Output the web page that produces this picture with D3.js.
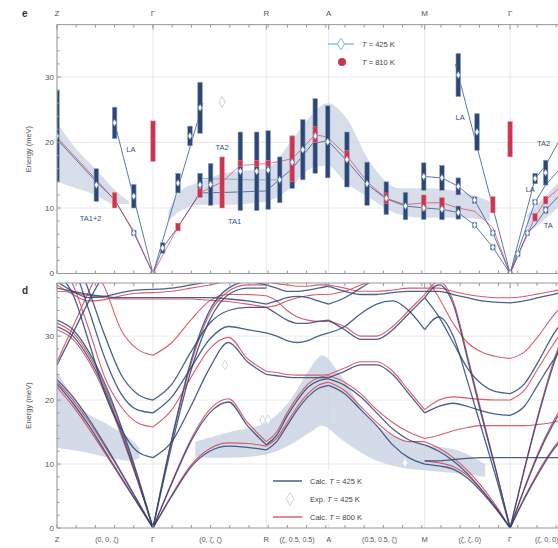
<!DOCTYPE html>
<html><head><meta charset="utf-8">
<script src="https://cdn.jsdelivr.net/npm/d3@7"></script>
<style>body{margin:0;background:#fff}svg{display:block;font-family:"Liberation Sans",Arial,sans-serif}</style>
</head><body><svg id="c" width="558" height="548"></svg>
<script>
// High-symmetry path
const symLabels = ["Z", "Γ", "R", "A", "M", "Γ"];
const symQ = [0, 1, 2.18, 2.83, 3.83, 4.72];
const dirLabels = ["(0, 0, ζ)", "(0, ζ, ζ)", "(ζ, 0.5, 0.5)", "(0.5, 0.5, ζ)", "(ζ, ζ, 0)", "(ζ, 0, 0)"];
const dirQ = [0.52, 1.6, 2.5, 3.36, 4.3, 5.1];
const yTicks = [0, 10, 20, 30];

// Panel e: measured peaks [q, energy, half-width]
const peaks425 = [
  [0, 21, 7], [0.41, 13.5, 2.5], [0.60, 23, 2.4], [0.80, 11.8, 1.8], [0.80, 6.2, 0.4],
  [1.10, 3.9, 0.8], [1.26, 13.8, 1.5], [1.385, 21, 1.5], [1.49, 25.3, 3.9], [1.49, 13.5, 1.8],
  [1.60, 13.6, 3.2], [1.91, 15.6, 6], [2.08, 15.6, 6], [2.20, 15.8, 6], [2.32, 14.3, 3.5],
  [2.45, 17, 4], [2.56, 18.9, 4.6], [2.69, 21, 5.7], [2.82, 20.1, 5.5], [3.02, 17.4, 4.2],
  [3.23, 13.7, 3.3], [3.43, 11.5, 2.5], [3.63, 10.3, 2.1], [3.82, 14.8, 2.1], [3.82, 10, 1.75],
  [4.01, 14.6, 1.9], [4.01, 9.8, 1.6], [4.18, 13.3, 1.3], [4.18, 9.3, 1.0], [4.18, 30.3, 3.3],
  [4.375, 21.6, 2.8], [4.35, 11.2, 0.5], [4.35, 7.4, 0.4], [4.54, 6.2, 0.4], [4.54, 4.0, 0.4],
  [4.80, 3.0, 0.4], [4.90, 6.2, 0.4], [4.98, 14.5, 0.8], [4.98, 10.9, 0.4], [5.09, 15.4, 1.9],
  [5.09, 9.7, 0.5], [1, 0, 0.3], [4.72, 0, 0.3]
];
const peaks810 = [
  [0.60, 11.2, 1.2], [1.0, 20.2, 3.1], [1.26, 7.1, 0.6], [1.49, 12.3, 0.7], [1.72, 13.9, 3.9],
  [1.91, 16.8, 0.5], [2.08, 16.8, 0.5], [2.20, 16.8, 0.5], [2.45, 17.5, 3.5], [2.69, 21.2, 1.2],
  [3.02, 18, 0.8], [3.43, 11.5, 0.8], [3.82, 10.8, 1.2], [4.01, 10.8, 0.8], [4.54, 10.5, 1.25],
  [4.72, 20.5, 2.7], [4.98, 8.6, 0.6], [5.09, 11.2, 0.6]
];
// Panel e: dispersion guides [q, energy]
const guide425 = [
  [[0, 20.5], [0.41, 14], [0.6, 11.3], [0.8, 6.2], [1, 0]],
  [[0.58, 24.2], [1, 0]],
  [[1, 0], [1.52, 26]],
  [[1, 0], [1.1, 3.9], [1.26, 7.1], [1.49, 12.3], [1.8, 12.4], [2.18, 12.6], [2.45, 16], [2.66, 19.8], [2.82, 20.3], [3.02, 17.2], [3.23, 13.6], [3.43, 11.4], [3.63, 10.3], [3.83, 10], [4.01, 9.8], [4.18, 9.3], [4.35, 7.4], [4.54, 4], [4.72, 0]],
  [[3.83, 14.8], [4.01, 14.6], [4.18, 13.3], [4.35, 11.2], [4.54, 6.2], [4.72, 0]],
  [[4.15, 32], [4.72, 0]],
  [[4.72, 0], [4.9, 6.2], [4.98, 7.4], [5.09, 9.7], [5.3, 13]],
  [[4.72, 0], [4.98, 10.9], [5.09, 13.5], [5.3, 17]],
  [[4.72, 0], [4.98, 14.5], [5.09, 16.5], [5.22, 20]]
];
const guideTA2 = [[1.49, 14.5], [1.8, 14.4], [2.0, 14.3], [2.3, 14.3]];
const guide810 = [
  [[0, 20.8], [0.41, 14.3], [0.6, 11.2], [0.8, 6.5], [1, 0]],
  [[1, 0], [1.26, 7.1], [1.49, 12.3], [1.72, 14], [1.91, 16.5], [2.2, 16.8], [2.45, 17.5], [2.69, 21.2], [2.82, 20.8], [3.02, 18], [3.23, 14], [3.43, 11.5], [3.63, 10.5], [3.82, 10.8], [4.01, 10.8], [4.18, 10], [4.35, 9.5], [4.54, 7], [4.72, 0]],
  [[4.72, 0], [4.98, 8.6], [5.09, 11.2], [5.3, 14]]
];
// Panel e: linewidth envelope [q, low, high]
const envE = [
  [[0, 14, 23], [0.2, 13, 19], [0.4, 12, 16], [0.6, 10.6, 12.8], [0.75, 10.6, 11]],
  [[1.16, 8, 9.5], [1.28, 9.5, 12.5], [1.49, 10.5, 14], [1.8, 10.5, 15.5], [2.18, 11, 16], [2.43, 13, 20], [2.64, 16, 24], [2.82, 16.5, 26], [3.0, 14, 24], [3.26, 11.5, 17], [3.57, 9, 13], [3.83, 8.5, 13], [4.2, 8.5, 12.5], [4.51, 8, 11]],
  [[4.9, 6, 9], [5.1, 8.5, 12], [5.3, 11, 15], [5.6, 13, 18]]
];
// Panel d: experimental envelope [q, low, high]
const envD = [
  [[0, 12.5, 24.5], [0.24, 12, 19], [0.55, 11, 16], [0.76, 10.5, 14], [0.86, 11, 12.5]],
  [[1.44, 11, 13.5], [1.8, 11, 15], [2.18, 11.5, 16.5], [2.43, 13, 20], [2.64, 15, 25], [2.76, 16, 27], [2.95, 14, 24], [3.26, 11, 17], [3.57, 9.5, 14], [3.83, 9, 13], [4.2, 8.5, 12], [4.46, 8, 10]]
];
const expPts = [[3.625, 10.2], [1.75, 25.5], [2.14, 16.9], [2.2, 16.9]];

// Panel d: calculated branches, 7 evenly spaced samples per path segment
const segQ = [[0, 1], [1, 2.18], [2.18, 2.83], [2.83, 3.83], [3.83, 4.72], [4.72, 5.6]];
const calc425_ZG = [
  [22.5, 19.5, 16, 12, 8, 4, 0], [23.2, 20.5, 17, 13, 8.8, 4.4, 0],
  [32.5, 31, 27.5, 22.5, 16, 8.5, 0], [31.5, 30, 26.5, 21.5, 15, 7.8, 0],
  [25.5, 30.5, 35.5, 40, 44, 45, 45], [40, 36.5, 29, 21, 15.5, 12, 11],
  [44, 41, 34, 26.5, 21, 18.5, 18], [45, 43, 37, 30, 24, 21, 20],
  [37.5, 37, 36.5, 36.2, 36, 36, 36], [38.5, 37, 36, 36.2, 36.8, 37.2, 37.3]
];
const calc800_ZG = [
  [22, 19, 15.5, 11.7, 7.8, 3.9, 0], [22.8, 20, 16.6, 12.7, 8.6, 4.3, 0],
  [32, 30.5, 27, 22, 15.6, 8.2, 0], [31, 29.5, 26, 21, 14.6, 7.6, 0],
  [26, 31.5, 37, 42, 45, 46, 46], [42, 38, 31, 23.5, 19, 16.5, 15.8],
  [50, 47, 42, 37.5, 31, 28, 27], [37, 36.8, 36.3, 36, 35.8, 35.8, 35.8],
  [38, 36.5, 35.5, 35.7, 36.3, 36.7, 36.8]
];
const calc425_GR = [
  [0, 5, 9.5, 12, 12.8, 12.6, 12.2], [0, 7, 13.5, 18, 19.7, 16, 13],
  [0, 14, 26, 34, 37.5, 38.5, 38], [0, 13, 24.5, 32.5, 36.5, 37.5, 37.5],
  [11, 13.5, 19, 25, 29, 26, 24], [18, 20.5, 25, 29.5, 31.5, 31, 30.5],
  [20, 22.5, 27.5, 32, 34, 34.5, 34.5], [36, 36, 36, 36, 35.8, 35.5, 35],
  [37.3, 37.5, 38, 38.5, 39, 39, 39]
];
const calc800_GR = [
  [0, 5.2, 9.8, 12.4, 13.3, 13.2, 12.8], [0, 7.2, 13.8, 18.5, 20.2, 16.5, 13.5],
  [0, 13.8, 25.5, 33.5, 37, 38, 38], [15.8, 18.5, 23.5, 28, 29.8, 26.5, 24.5],
  [27, 29, 32.5, 35.5, 36.5, 36.5, 36.3], [35.8, 35.8, 35.8, 35.6, 35.4, 35, 34.5],
  [36.8, 37, 37.5, 38, 38.5, 38.5, 38.5]
];
const calc425_RA = [
  [12.2, 13.5, 16, 18.5, 20.5, 21.8, 22.3], [13, 14.5, 17.5, 20, 22, 23, 23.3],
  [24, 23.8, 23.6, 23.5, 23.5, 23.5, 23.5], [30.5, 30, 29.3, 29, 29.3, 30, 30.5],
  [34.5, 33.5, 32.5, 32, 32, 32.3, 32.5], [35, 35.5, 36, 36.2, 36, 35.5, 35],
  [38, 37.5, 37, 37, 37.2, 37.5, 37.8]
];
const calc800_RA = [
  [12.8, 14, 16.5, 19, 21, 22.3, 22.8], [13.5, 15, 18, 20.5, 22.5, 23.5, 23.8],
  [24.5, 24.3, 24, 23.9, 23.9, 23.9, 24], [36.3, 35.5, 34, 33, 32.5, 32.3, 32.3],
  [34.5, 34.8, 35.5, 36, 36.3, 36.5, 36.5], [38.5, 38.2, 38, 37.8, 37.8, 38, 38]
];
const calc425_AM = [
  [22.3, 21, 18.5, 16, 13, 11, 10], [23.3, 22.3, 20.5, 18, 15.5, 13.8, 13],
  [23.5, 24.5, 25.5, 25.5, 24, 21, 18], [30.5, 31.5, 33.5, 35, 35.5, 34, 31],
  [32.5, 31, 29.5, 29.5, 31, 33.5, 36], [35, 36, 37.5, 39, 40, 40, 40],
  [37.8, 37, 36.5, 36.5, 36.8, 37, 37]
];
const calc800_AM = [
  [22.8, 21.5, 19, 16.5, 14.5, 13.5, 13.5], [23.8, 22.8, 21, 18.5, 16.5, 15, 14],
  [24, 25, 26, 26, 24.5, 21.5, 18.5], [32.3, 31.5, 30, 30, 31.5, 34, 36.5],
  [36.5, 37, 38, 39, 39.5, 39.5, 39.5], [38, 37.5, 37, 37, 37.2, 37.5, 37.5]
];
const calc425_MG = [
  [10, 9.7, 9.2, 7.8, 5.6, 3, 0], [13, 12, 10.5, 8.5, 6, 3.2, 0],
  [36, 38, 35, 26.5, 17.5, 9, 0], [31, 33, 30, 23, 15.5, 8, 0],
  [10.5, 10.5, 10.7, 10.9, 11, 11, 11], [18, 19, 19.5, 19, 18.3, 17.8, 17.6],
  [36, 33, 29, 25, 22.5, 21.3, 21], [37, 37, 36.5, 36, 35.5, 35.3, 35.2]
];
const calc800_MG = [
  [10.5, 10.2, 9.6, 8.2, 5.9, 3.2, 0], [13.5, 12.5, 11, 9, 6.5, 3.5, 0],
  [36.5, 38.5, 35.5, 27, 18, 9.2, 0], [14, 14.5, 15.2, 15.7, 16, 16, 16],
  [18.5, 20, 20.5, 20.3, 20.1, 20, 20], [39.5, 36, 32, 29, 27.5, 26.8, 26.5],
  [37.5, 37.5, 37, 36.5, 36.2, 36, 36]
];
const calc425_GX = [
  [0, 4.5, 8.5, 12, 14.5, 16, 17], [0, 6, 11.5, 16, 19.5, 22, 23],
  [0, 9, 17.5, 25, 31, 35, 37], [11, 11, 11, 11, 11, 11, 11],
  [17.6, 19, 22.5, 26, 29, 31, 32], [21, 22.5, 26, 30, 33, 35, 36],
  [35.2, 35.5, 36, 36.5, 37, 37.5, 38]
];
const calc800_GX = [
  [0, 4.7, 8.8, 12.3, 14.8, 16.3, 17.2], [0, 6.2, 11.8, 16.4, 20, 22.5, 23.5],
  [0, 9.2, 17.8, 25.5, 31.5, 35.5, 37.5], [16, 16, 16.2, 16.5, 17, 17.5, 18],
  [20, 21.5, 25, 28.5, 31.5, 33.5, 34.5], [26.5, 27.5, 30, 33, 35.5, 37, 38],
  [36, 36.2, 36.6, 37, 37.5, 38, 38.5]
];
const calc425 = [calc425_ZG, calc425_GR, calc425_RA, calc425_AM, calc425_MG, calc425_GX];
const calc800 = [calc800_ZG, calc800_GR, calc800_RA, calc800_AM, calc800_MG, calc800_GX];

const C = {
  navy: "#2d4673", blueLine: "#4a6aa0", teal: "#7fb0d0", red: "#cc3550",
  calcBlue: "#2c4575", calcRed: "#d64a5c", band: "#c9d2e2", grid: "#e3e3e3", axis: "#999"
};

const svg = d3.select("#c");
const W = 558;
const x = d3.scaleLinear().domain([0, 5.6]).range([57, 57 + 5.6 * 96]);
const yE = d3.scaleLinear().domain([0, 38]).range([273.5, 24.6]);
const yD = d3.scaleLinear().domain([0, 38.3]).range([528, 283]);

const defs = svg.append("defs");
defs.append("clipPath").attr("id", "clipE").append("rect").attr("x", 57).attr("y", 24.6).attr("width", W - 57).attr("height", 273.5 - 24.6);
defs.append("clipPath").attr("id", "clipD").append("rect").attr("x", 57).attr("y", 283).attr("width", W - 57).attr("height", 528 - 283);

function frame(y, top, bottom) {
  const g = svg.append("g");
  g.selectAll(".vg").data(symQ).join("line")
    .attr("x1", d => x(d)).attr("x2", d => x(d)).attr("y1", top).attr("y2", bottom)
    .attr("stroke", C.grid).attr("stroke-width", 0.8);
  g.selectAll(".hg").data(yTicks.slice(1)).join("line")
    .attr("x1", 57).attr("x2", W).attr("y1", d => y(d)).attr("y2", d => y(d))
    .attr("stroke", C.grid).attr("stroke-width", 0.8);
  return g;
}

function axes(y, top, bottom) {
  const g = svg.append("g").attr("stroke", C.axis).attr("fill", "none");
  g.append("line").attr("x1", 57).attr("x2", W).attr("y1", top).attr("y2", top);
  g.append("line").attr("x1", 57).attr("x2", W).attr("y1", bottom).attr("y2", bottom);
  g.append("line").attr("x1", 57).attr("x2", 57).attr("y1", top).attr("y2", bottom);
  const minorQ = d3.range(0, 5.6, 0.2);
  g.selectAll(".tt").data(minorQ).join("line")
    .attr("x1", d => x(d)).attr("x2", d => x(d)).attr("y1", top).attr("y2", top + 3);
  g.selectAll(".tb").data(minorQ).join("line")
    .attr("x1", d => x(d)).attr("x2", d => x(d)).attr("y1", bottom).attr("y2", bottom - 3);
  g.selectAll(".ts").data(symQ).join("line")
    .attr("x1", d => x(d)).attr("x2", d => x(d)).attr("y1", top).attr("y2", top + 5);
  const yMinor = d3.range(0, 38, 2);
  g.selectAll(".ym").data(yMinor).join("line")
    .attr("x1", 57).attr("x2", d => d % 10 === 0 ? 61 : 59.5).attr("y1", d => y(d)).attr("y2", d => y(d));
  svg.append("g").selectAll("text").data(yTicks).join("text")
    .attr("x", 54).attr("y", d => y(d) + 2.8).attr("text-anchor", "end")
    .attr("font-size", 8).attr("fill", "#555").text(d => d);
  svg.append("text").attr("transform", `translate(31,${(top + bottom) / 2}) rotate(-90)`)
    .attr("text-anchor", "middle").attr("font-size", 7.5).attr("fill", "#555").text("Energy (meV)");
}

function envelope(g, y, parts, fill, op) {
  const area = d3.area().x(d => x(d[0])).y0(d => y(d[1])).y1(d => y(d[2])).curve(d3.curveMonotoneX);
  parts.forEach(p => g.append("path").attr("d", area(p)).attr("fill", fill).attr("opacity", op));
}

// ---------- Panel e ----------
frame(yE, 24.6, 273.5);
const gE = svg.append("g").attr("clip-path", "url(#clipE)");
envelope(gE, yE, envE, C.band, 0.75);
const lineE = d3.line().x(d => x(d[0])).y(d => yE(d[1]));
guide425.forEach(p => gE.append("path").attr("d", lineE(p)).attr("fill", "none").attr("stroke", C.blueLine).attr("stroke-width", 0.9));
gE.append("path").attr("d", lineE(guideTA2)).attr("fill", "none").attr("stroke", C.teal).attr("stroke-width", 1);
guide810.forEach(p => gE.append("path").attr("d", lineE(p)).attr("fill", "none").attr("stroke", C.red).attr("stroke-width", 0.8).attr("opacity", 0.8));

gE.selectAll(".b425").data(peaks425).join("rect")
  .attr("x", d => x(d[0]) - 2.3).attr("width", 4.6)
  .attr("y", d => yE(d[1] + d[2])).attr("height", d => Math.max(2, yE(d[1] - d[2]) - yE(d[1] + d[2])))
  .attr("fill", C.navy).attr("stroke", "#8ea6cc").attr("stroke-width", 0.6);
gE.selectAll(".b810").data(peaks810).join("rect")
  .attr("x", d => x(d[0]) - 2.3).attr("width", 4.6)
  .attr("y", d => yE(d[1] + d[2])).attr("height", d => Math.max(2, yE(d[1] - d[2]) - yE(d[1] + d[2])))
  .attr("fill", C.red).attr("stroke", "#e69aa8").attr("stroke-width", 0.5);
const diamond = d3.symbol().type(d3.symbolDiamond).size(14);
gE.selectAll(".m425").data(peaks425).join("path")
  .attr("transform", d => `translate(${x(d[0])},${yE(d[1])})`).attr("d", diamond)
  .attr("fill", "#fff").attr("stroke", "#6f8fbf").attr("stroke-width", 0.5);
gE.append("path").attr("transform", `translate(${x(1.72)},${yE(26.2)})`)
  .attr("d", d3.symbol().type(d3.symbolDiamond).size(34)).attr("fill", "#fff").attr("stroke", "#d8c6e0").attr("stroke-width", 1);

axes(yE, 24.6, 273.5);

// mode labels [text, q, energy, anchor]
const modeLabels = [["LA", 0.77, 18.5, "middle"], ["TA1+2", 0.35, 8, "middle"], ["TA2", 1.72, 18.8, "middle"], ["TA1", 1.85, 7.5, "middle"], ["LA", 4.2, 23.5, "middle"], ["LA", 4.93, 12.5, "middle"], ["TA2", 5.0, 19.5, "start"], ["TA", 5.07, 7.0, "start"]];
svg.append("g").selectAll("text").data(modeLabels).join("text")
  .attr("x", d => x(d[1])).attr("y", d => yE(d[2])).attr("text-anchor", d => d[3])
  .attr("font-size", 7.5).attr("fill", "#2f4f8f").text(d => d[0]);

// legend e
const lgE = svg.append("g");
lgE.append("line").attr("x1", 328).attr("x2", 354).attr("y1", 44).attr("y2", 44).attr("stroke", C.teal).attr("stroke-width", 1.2);
lgE.append("path").attr("transform", "translate(341,44)").attr("d", d3.symbol().type(d3.symbolDiamond).size(40))
  .attr("fill", "#fff").attr("stroke", "#7fc0c8").attr("stroke-width", 1);
lgE.append("circle").attr("cx", 342).attr("cy", 62).attr("r", 4).attr("fill", C.red);
lgE.append("text").attr("x", 362).attr("y", 46.5).attr("font-size", 7.5).attr("fill", "#444")
  .html('<tspan font-style="italic">T</tspan> = 425 K');
lgE.append("text").attr("x", 362).attr("y", 64.5).attr("font-size", 7.5).attr("fill", "#444")
  .html('<tspan font-style="italic">T</tspan> = 810 K');

// high-symmetry labels on top
svg.append("g").selectAll("text").data(symLabels).join("text")
  .attr("x", (d, i) => x(symQ[i])).attr("y", 16).attr("text-anchor", "middle")
  .attr("font-size", 8).attr("fill", "#555").text(d => d);

// ---------- Panel d ----------
frame(yD, 283, 528);
const gD = svg.append("g").attr("clip-path", "url(#clipD)");
envelope(gD, yD, envD, C.band, 0.8);
gD.selectAll(".exp").data(expPts).join("path")
  .attr("transform", d => `translate(${x(d[0])},${yD(d[1])})`)
  .attr("d", d3.symbol().type(d3.symbolDiamond).size(28))
  .attr("fill", "#fff").attr("stroke", "#d5d5dd").attr("stroke-width", 0.9);

const lineD = d3.line().x(d => x(d[0])).y(d => yD(d[1])).curve(d3.curveMonotoneX);
function drawCalc(sets, color, width, op) {
  sets.forEach((branches, s) => {
    const [q0, q1] = segQ[s];
    branches.forEach(b => {
      const pts = b.map((E, i) => [q0 + (q1 - q0) * i / (b.length - 1), E]);
      gD.append("path").attr("d", lineD(pts)).attr("fill", "none")
        .attr("stroke", color).attr("stroke-width", width).attr("opacity", op);
    });
  });
}
drawCalc(calc800, C.calcRed, 1.1, 0.9);
drawCalc(calc425, C.calcBlue, 1.3, 0.85);

axes(yD, 283, 528);

// bottom labels
svg.append("g").selectAll("text").data(symLabels).join("text")
  .attr("x", (d, i) => x(symQ[i])).attr("y", 542).attr("text-anchor", "middle")
  .attr("font-size", 7.5).attr("fill", "#555").text(d => d);
svg.append("g").selectAll("text").data(dirLabels).join("text")
  .attr("x", (d, i) => x(dirQ[i])).attr("y", 542).attr("text-anchor", "middle")
  .attr("font-size", 7).attr("fill", "#555").text(d => d);

// legend d
const lgD = svg.append("g");
lgD.append("rect").attr("x", 268).attr("y", 470).attr("width", 95).attr("height", 54).attr("fill", "#fff").attr("opacity", 0.9);
lgD.append("line").attr("x1", 273).attr("x2", 302).attr("y1", 481).attr("y2", 481).attr("stroke", C.calcBlue).attr("stroke-width", 1.3);
lgD.append("path").attr("transform", "translate(290,499)").attr("d", d3.symbol().type(d3.symbolDiamond).size(50))
  .attr("fill", "#fff").attr("stroke", "#d5d5dd").attr("stroke-width", 1);
lgD.append("line").attr("x1", 273).attr("x2", 302).attr("y1", 517).attr("y2", 517).attr("stroke", C.calcRed).attr("stroke-width", 1.3);
[["Calc. ", "425 K", 483.5], ["Exp. ", "425 K", 501.5], ["Calc. ", "800 K", 519.5]].forEach(r => {
  lgD.append("text").attr("x", 310).attr("y", r[2]).attr("font-size", 7.5).attr("fill", "#444")
    .html(`${r[0]}<tspan font-style="italic">T</tspan> = ${r[1]}`);
});

// panel letters
svg.append("text").attr("x", 22).attr("y", 17).attr("font-size", 10).attr("font-weight", "bold").attr("fill", "#333").text("e");
svg.append("text").attr("x", 22).attr("y", 294).attr("font-size", 10).attr("font-weight", "bold").attr("fill", "#333").text("d");
</script></body></html>
